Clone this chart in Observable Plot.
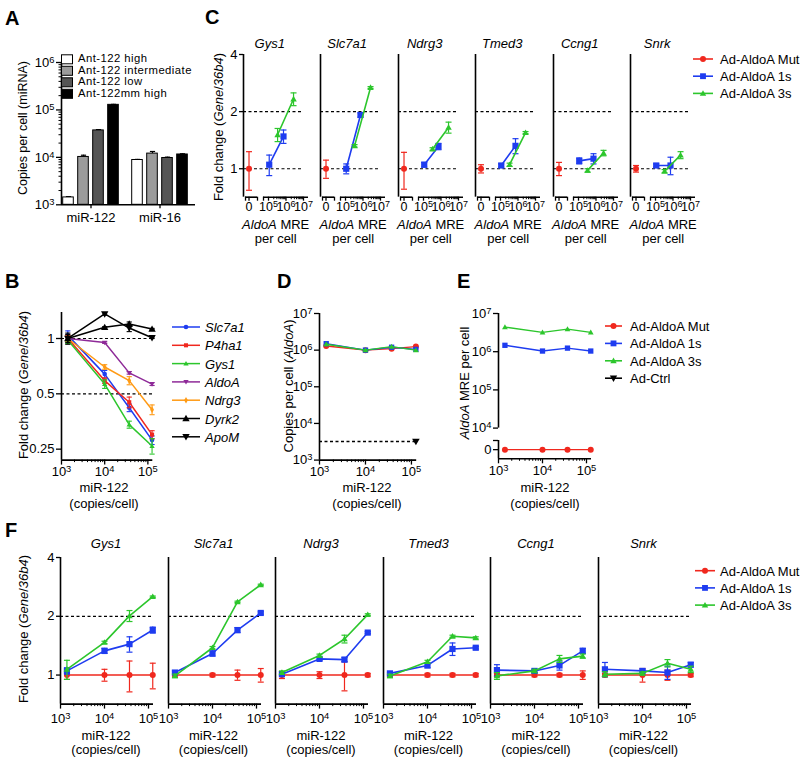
<!DOCTYPE html>
<html><head><meta charset="utf-8">
<script src="https://cdn.jsdelivr.net/npm/d3@7"></script>
<script src="https://cdn.jsdelivr.net/npm/@observablehq/plot@0.6"></script>
<style>
body{margin:0;background:#fff;}
#fig{position:relative;width:800px;height:760px;overflow:hidden;font-family:"Liberation Sans",Arial,Helvetica,sans-serif;color:#000;background:#fff;}
.abs{position:absolute;white-space:nowrap;line-height:1;}
</style></head><body><div id="fig"></div>
<script>
// ---------------- DATA ----------------
// Panel A
const aGroups = ["miR-122", "miR-16"];
const aConditions = ["Ant-122 high", "Ant-122 intermediate", "Ant-122 low", "Ant-122mm high"];
const aValues = [[1430, 10200, 37000, 128000], [8800, 12000, 9700, 11500]];
const aErrors = [[60, 900, 1500, 3000], [250, 1300, 400, 400]];
// shared miR-122 copies per cell (x)
const mir122 = [1400, 10000, 37000, 125000];
// Panel B
const bGenes = ["Slc7a1", "P4ha1", "Gys1", "AldoA", "Ndrg3", "Dyrk2", "ApoM"];
const bValues = [
  [1.04, 0.64, 0.42, 0.28],
  [1.0, 0.59, 0.45, 0.30],
  [0.98, 0.565, 0.34, 0.26],
  [1.0, 0.95, 0.65, 0.565],
  [1.0, 0.70, 0.59, 0.41],
  [1.0, 1.15, 1.2, 1.125],
  [1.0, 1.36, 1.14, 1.01]
];
const bErrors = [
  [0.06, 0.03, 0.02, 0.015],
  [0.04, 0.02, 0.03, 0.015],
  [0.04, 0.03, 0.015, 0.025],
  [0.02, 0.01, 0.01, 0.01],
  [0.03, 0.02, 0.03, 0.025],
  [0.07, 0.01, 0.03, 0.01],
  [0.05, 0.02, 0.05, 0.01]
];
const bRef = [1, 0.5];
// Panel C
const cGenes = ["Gys1", "Slc7a1", "Ndrg3", "Tmed3", "Ccng1", "Snrk"];
const cMutMRE = [0];
const c1sMRE = [110000, 720000];
const c3sMRE = [330000, 2700000];
const cMut = [1.0, 1.0, 1.0, 1.0, 1.0, 1.0];
const cMutErr = [0.23, 0.11, 0.22, 0.05, 0.08, 0.04];
const c1s = [[1.05, 1.48], [1.0, 1.92], [1.05, 1.31], [1.04, 1.32], [1.1, 1.13], [1.04, 1.04]];
const c1sErr = [[0.13, 0.12], [0.06, 0.05], [0.03, 0.05], [0.02, 0.12], [0.04, 0.07], [0.02, 0.11]];
const c3s = [[1.51, 2.33], [1.32, 2.68], [1.27, 1.65], [1.05, 1.55], [0.98, 1.21], [0.97, 1.18]];
const c3sErr = [[0.12, 0.18], [0.02, 0.03], [0.02, 0.11], [0.02, 0.02], [0.02, 0.04], [0.02, 0.05]];
const cRef = [1, 2];
// Panel D
const dMut = [1.3e6, 1.0e6, 1.1e6, 1.25e6];
const d1s = [1.5e6, 1.0e6, 1.2e6, 1.05e6];
const d3s = [1.45e6, 1.0e6, 1.25e6, 1.0e6];
const dCtrl = 3200;
// Panel E
const eMut = [0, 0, 0, 0];
const e1s = [1.47e6, 1.04e6, 1.24e6, 1.04e6];
const e3s = [4.4e6, 3.2e6, 3.9e6, 3.2e6];
// Panel F
const fGenes = ["Gys1", "Slc7a1", "Ndrg3", "Tmed3", "Ccng1", "Snrk"];
const fMut = [[1,1,1,1],[1,1,1,1],[1,1,1,1],[1,1,1,1],[1,1,1,1],[1,1,1,1]];
const fMutErr = [
  [0.05, 0.07, 0.18, 0.15], [0.02, 0.02, 0.06, 0.08], [0.04, 0.04, 0.17, 0.02],
  [0.02, 0.02, 0.02, 0.02], [0.02, 0.02, 0.02, 0.05], [0.02, 0.08, 0.06, 0.02]
];
const f1s = [
  [1.05, 1.33, 1.44, 1.70], [1.03, 1.29, 1.70, 2.08], [1.01, 1.21, 1.20, 1.65],
  [1.02, 1.12, 1.36, 1.38], [1.06, 1.05, 1.12, 1.33], [1.07, 1.05, 1.03, 1.13]
];
const f1sErr = [
  [0.04, 0.04, 0.13, 0.06], [0.02, 0.04, 0.05, 0.03], [0.01, 0.02, 0.03, 0.02],
  [0.01, 0.03, 0.10, 0.02], [0.07, 0.02, 0.06, 0.04], [0.09, 0.02, 0.08, 0.03]
];
const f3s = [
  [1.07, 1.47, 2.01, 2.52], [0.99, 1.38, 2.37, 2.90], [1.03, 1.26, 1.53, 2.04],
  [0.99, 1.17, 1.58, 1.55], [0.99, 1.05, 1.21, 1.25], [1.01, 1.02, 1.15, 1.07]
];
const f3sErr = [
  [0.12, 0.02, 0.13, 0.02], [0.02, 0.02, 0.02, 0.02], [0.02, 0.02, 0.07, 0.02],
  [0.02, 0.02, 0.02, 0.02], [0.04, 0.02, 0.05, 0.03], [0.03, 0.02, 0.05, 0.04]
];
const fRef = [2];
const seriesNames = ["Ad-AldoA Mut", "Ad-AldoA 1s", "Ad-AldoA 3s", "Ad-Ctrl"];

// ---------------- STYLE / HELPERS ----------------
const FONT = '"Liberation Sans", Arial, Helvetica, sans-serif';
const RED = "#f0281e", BLUE = "#1e3cf0", GREEN = "#2cc62c", PURPLE = "#8e2a98", ORANGE = "#ff9a14", BLACK = "#000";
const SUP = "⁰¹²³⁴⁵⁶⁷⁸⁹";
const pow10 = d => "10" + String(Math.round(Math.log10(d))).split("").map(c => SUP[+c]).join("");
const minorLog = (lo, hi) => { const t = []; for (let e = lo; e < hi; e++) for (let k = 2; k < 10; k++) t.push(k * 10 ** e); return t; };
const cap = {draw(ctx, size) { const w = Math.sqrt(size / Math.PI); ctx.moveTo(-w, 0); ctx.lineTo(w, 0); }};
const triUp = {draw(ctx, size) { const r = Math.sqrt(size / Math.PI); ctx.moveTo(0, -r * 1.15); ctx.lineTo(r * 1.15, r * 0.85); ctx.lineTo(-r * 1.15, r * 0.85); ctx.closePath(); }};
const triDown = {draw(ctx, size) { const r = Math.sqrt(size / Math.PI); ctx.moveTo(0, r * 1.15); ctx.lineTo(r * 1.15, -r * 0.85); ctx.lineTo(-r * 1.15, -r * 0.85); ctx.closePath(); }};
const fig = document.getElementById("fig");

function series(xs, ys, es, o) {
  const rows = xs.map((x, i) => ({x, y: ys[i], e: es ? es[i] : 0}));
  const er = rows.filter(d => d.e > 0);
  const ew = o.ew ?? 1.2, capR = o.capR ?? 3;
  return [
    Plot.ruleX(er, {x: "x", y1: d => d.y - d.e, y2: d => d.y + d.e, stroke: o.color, strokeWidth: ew}),
    Plot.dot(er, {x: "x", y: d => d.y + d.e, symbol: cap, r: capR, stroke: o.color, strokeWidth: ew, fill: "none"}),
    Plot.dot(er, {x: "x", y: d => d.y - d.e, symbol: cap, r: capR, stroke: o.color, strokeWidth: ew, fill: "none"}),
    rows.length > 1 ? Plot.line(rows, {x: "x", y: "y", stroke: o.color, strokeWidth: o.sw ?? 1.6}) : null,
    Plot.dot(rows, {x: "x", y: "y", symbol: o.symbol, r: o.r ?? 3, fill: o.color, stroke: "none"})
  ].filter(Boolean);
}

// render "10⁵"-style tick labels with a real, larger superscript
function fixSuperscripts(svg) {
  svg.querySelectorAll("text").forEach(t => {
    const m = /^10([⁰¹²³⁴⁵⁶⁷⁸⁹]+)$/.exec(t.textContent);
    if (!m) return;
    const exp = m[1].split("").map(c => SUP.indexOf(c)).join("");
    t.textContent = "10";
    const ts = document.createElementNS("http://www.w3.org/2000/svg", "tspan");
    ts.setAttribute("dy", "-0.42em");
    ts.setAttribute("font-size", "0.72em");
    ts.textContent = exp;
    t.appendChild(ts);
  });
}

function mount(marks, f) {
  const mL = f.mL ?? 45, mR = f.mR ?? 14, mT = f.mT ?? 10, mB = f.mB ?? 30;
  const opts = {
    width: f.x1 - f.x0 + mL + mR, height: f.y1 - f.y0 + mT + mB,
    marginLeft: mL, marginRight: mR, marginTop: mT, marginBottom: mB,
    x: f.x, y: f.y, marks: marks.flat(Infinity).filter(Boolean),
    style: {background: "transparent", fontFamily: FONT, fontSize: "13px", color: "#000", overflow: "visible"}
  };
  if (f.color) opts.color = f.color;
  const p = Plot.plot(opts);
  fixSuperscripts(p);
  p.style.position = "absolute";
  p.style.left = (f.x0 - mL) + "px";
  p.style.top = (f.y0 - mT) + "px";
  fig.appendChild(p);
}

function label(html, x, y, o = {}) {
  const d = document.createElement("div");
  d.className = "abs";
  d.innerHTML = html;
  d.style.left = x + "px"; d.style.top = y + "px";
  d.style.fontSize = (o.size ?? 13) + "px";
  if (o.bold) d.style.fontWeight = "bold";
  if (o.italic) d.style.fontStyle = "italic";
  if (o.ls) d.style.letterSpacing = o.ls + "px";
  d.style.transform = o.rot ? "translate(-50%,-50%) rotate(-90deg)" : (o.left ? "translate(0,-50%)" : "translate(-50%,-50%)");
  fig.appendChild(d);
}

const logXAxis = (lo, hi, pad = 2) => [
  Plot.axisX({ticks: d3.range(lo, hi + 1).map(e => 10 ** e), tickFormat: pow10, tickSize: 5, tickPadding: pad, fontSize: 13, strokeWidth: 1.3, label: null}),
  Plot.axisX({ticks: minorLog(lo, hi), tickSize: 2.5, tickFormat: () => "", strokeWidth: 1, label: null})
];
const fold = d => String(d);
const dash = {strokeDasharray: "3,2.5", strokeWidth: 1.2};
const AX = 1.6;

// ---------------- PANEL A ----------------
const aGap = 4.6, aW = 0.707;
const aRows = [];
aGroups.forEach((g, gi) => aConditions.forEach((c, ci) => {
  const x1 = gi * aGap + ci;
  aRows.push({gi, ci, x1, x2: x1 + aW, xm: x1 + aW / 2, v: aValues[gi][ci], e: aErrors[gi][ci]});
}));
const aFill = ["#ffffff", "#9b9b9b", "#555555", "#000000"];
const aCenters = aGroups.map((g, gi) => gi * aGap + 1.5 + aW / 2);
mount([
  Plot.ruleX(aRows, {x: "xm", y1: "v", y2: d => d.v + d.e, strokeWidth: 1.2}),
  Plot.dot(aRows, {x: "xm", y: d => d.v + d.e, symbol: cap, r: 2.6, stroke: BLACK, strokeWidth: 1.2, fill: "none"}),
  Plot.rect(aRows, {x1: "x1", x2: "x2", y1: () => 1e3, y2: "v", fill: d => aFill[d.ci], stroke: BLACK, strokeWidth: 1}),
  Plot.ruleX([-0.113], {strokeWidth: AX}),
  Plot.ruleY([1e3], {strokeWidth: AX}),
  Plot.axisY({ticks: [1e3, 1e4, 1e5, 1e6], tickFormat: pow10, tickSize: 5, tickPadding: 2, fontSize: 13, strokeWidth: 1.3, label: null}),
  Plot.axisY({ticks: minorLog(3, 6), tickSize: 2.5, tickFormat: () => "", label: null}),
  Plot.axisX({ticks: aCenters, tickFormat: d => aGroups[aCenters.indexOf(d)], tickSize: 4, tickPadding: 4, fontSize: 13, strokeWidth: 1.3, label: null})
], {x0: 61, x1: 195, y0: 61.7, y1: 204, x: {domain: [-0.113, 8.82]}, y: {type: "log", domain: [1e3, 1e6]}, color: {type: "identity"}});
label("Copies per cell (miRNA)", 23, 128, {rot: true, size: 12.5});

// ---------------- PANEL B ----------------
const bColors = [BLUE, RED, GREEN, PURPLE, ORANGE, BLACK, BLACK];
const bSymbols = ["circle", "square", triUp, triDown, "diamond", triUp, triDown];
const bR = [2.3, 2.3, 2.3, 2.3, 2.0, 3.2, 3.2];
mount([
  Plot.ruleY(bRef, dash),
  bGenes.map((g, i) => series(mir122, bValues[i], bErrors[i], {color: bColors[i], symbol: bSymbols[i], r: bR[i], sw: 1.5, capR: 2.6, ew: 1.1})),
  Plot.ruleX([1e3], {strokeWidth: AX}),
  Plot.ruleY([0.218], {strokeWidth: AX}),
  Plot.axisY({ticks: [0.25, 0.5, 1], tickFormat: fold, tickSize: 5, tickPadding: 2, fontSize: 13, strokeWidth: 1.3, label: null}),
  logXAxis(3, 5)
], {x0: 60.7, x1: 152, y0: 311.7, y1: 459.3, x: {type: "log", domain: [1e3, 1.3e5]}, y: {type: "log", base: 2, domain: [0.218, 1.385]}});
label("Fold change (<i>Gene</i>/<i>36b4</i>)", 23, 385, {rot: true});
label("miR-122", 104, 487);
label("(copies/cell)", 104, 503);

// ---------------- PANEL C ----------------
const cDomain = [3.571, 7.286], cZero = 3.886, cZeroSeg = [3.686, 4.371], cLogSeg = [4.714, 7.286];
const cX = v => v === 0 ? cZero : Math.log10(v);
cGenes.forEach((g, i) => {
  const a = 242.7 + i * 77.5;
  mount([
    Plot.ruleY(cRef, {...dash, x1: cDomain[0], x2: 7}),
    Plot.ruleX([cDomain[0]], {strokeWidth: AX}),
    Plot.ruleY([0.708], {x1: cZeroSeg[0], x2: cZeroSeg[1], strokeWidth: AX}),
    Plot.ruleY([0.708], {x1: cLogSeg[0], x2: cLogSeg[1], strokeWidth: AX}),
    series(cMutMRE.map(cX), [cMut[i]], [cMutErr[i]], {color: RED, symbol: "circle", r: 3}),
    series(c1sMRE.map(cX), c1s[i], c1sErr[i], {color: BLUE, symbol: "square", r: 3.5}),
    series(c3sMRE.map(cX), c3s[i], c3sErr[i], {color: GREEN, symbol: triUp, r: 2.8}),
    Plot.axisX({ticks: [cZero, 5, 6, 7], tickFormat: d => d === cZero ? "0" : pow10(10 ** d), tickSize: 4, tickPadding: 1, fontSize: 12.5, strokeWidth: 1.3, label: null}),
    Plot.axisX({ticks: [...cZeroSeg, cLogSeg[0]], tickSize: 4, tickFormat: () => "", strokeWidth: 1.3, label: null}),
    Plot.axisX({ticks: minorLog(5, 7).map(Math.log10), tickSize: 2.5, tickFormat: () => "", label: null}),
    i === 0 ? Plot.axisY({ticks: [1, 2, 4], tickFormat: fold, tickSize: 4, tickPadding: 2, fontSize: 13, strokeWidth: 1.3, label: null}) : null
  ], {x0: a, x1: a + 65, y0: 54.3, y1: 197, x: {domain: cDomain}, y: {type: "log", base: 2, domain: [0.708, 4], axis: i === 0 ? undefined : null}});
  label(g, a + 27, 43, {italic: true});
  label("<i>AldoA</i> MRE", a + 33, 224);
  label("per cell", a + 33, 238);
});
label("Fold change (<i>Gene</i>/<i>36b4</i>)", 218, 127, {rot: true});

// ---------------- PANEL D ----------------
mount([
  Plot.ruleY([dCtrl], {x1: 1e3, x2: mir122[3], ...dash, strokeWidth: 1.4}),
  Plot.dot([dCtrl], {x: mir122[3], y: d => d, symbol: triDown, r: 3.3, fill: BLACK}),
  series(mir122, dMut, null, {color: RED, symbol: "circle", r: 3, sw: 1.4}),
  series(mir122, d1s, null, {color: BLUE, symbol: "square", r: 3, sw: 1.4}),
  series(mir122, d3s, null, {color: GREEN, symbol: triUp, r: 2.5, sw: 1.4}),
  Plot.ruleX([1e3], {strokeWidth: AX}),
  Plot.ruleY([1e3], {strokeWidth: AX}),
  Plot.axisY({ticks: [1e3, 1e4, 1e5, 1e6, 1e7], tickFormat: pow10, tickSize: 5, tickPadding: 2, fontSize: 13, strokeWidth: 1.3, label: null}),
  logXAxis(3, 5)
], {x0: 319.3, x1: 416.5, y0: 312.7, y1: 459.3, x: {type: "log", domain: [1e3, 1.3e5]}, y: {type: "log", domain: [1e3, 1e7]}});
label("Copies per cell (<i>AldoA</i>)", 288, 386, {rot: true});
label("miR-122", 367, 487);
label("(copies/cell)", 367, 503);

// ---------------- PANEL E ----------------
mount([
  series(mir122, e1s, null, {color: BLUE, symbol: "square", r: 3, sw: 1.4}),
  series(mir122, e3s, null, {color: GREEN, symbol: triUp, r: 2.5, sw: 1.4}),
  Plot.ruleX([1e3], {strokeWidth: AX}),
  Plot.axisY({ticks: [1e4, 1e5, 1e6, 1e7], tickFormat: pow10, tickSize: 5, tickPadding: 2, fontSize: 13, strokeWidth: 1.3, label: null})
], {x0: 497.7, x1: 590.7, y0: 312.7, y1: 427.3, mB: 6, x: {type: "log", domain: [1e3, 1.3e5], axis: null}, y: {type: "log", domain: [1e4, 1e7]}});
mount([
  series(mir122, eMut, null, {color: RED, symbol: "circle", r: 3, sw: 1.4}),
  Plot.ruleX([1e3], {strokeWidth: AX}),
  Plot.ruleY([-1], {strokeWidth: AX}),
  Plot.axisY({ticks: [0], tickFormat: fold, tickSize: 5, tickPadding: 2, fontSize: 13, strokeWidth: 1.3, label: null}),
  Plot.axisY({ticks: [1], tickSize: 5, tickFormat: () => "", strokeWidth: 1.3, label: null}),
  logXAxis(3, 5)
], {x0: 497.7, x1: 590.7, y0: 440, y1: 458.3, mT: 4, x: {type: "log", domain: [1e3, 1.3e5]}, y: {domain: [-1, 1]}});
label("<i>AldoA</i> MRE per cell", 464, 383, {rot: true});
label("miR-122", 545, 487);
label("(copies/cell)", 545, 503);

// ---------------- PANEL F ----------------
fGenes.forEach((g, i) => {
  const a = 60 + i * 107.5;
  mount([
    Plot.ruleY(fRef, dash),
    series(mir122, fMut[i], fMutErr[i], {color: RED, symbol: "circle", r: 3}),
    series(mir122, f1s[i], f1sErr[i], {color: BLUE, symbol: "square", r: 3.5}),
    series(mir122, f3s[i], f3sErr[i], {color: GREEN, symbol: triUp, r: 2.8}),
    Plot.ruleX([1e3], {strokeWidth: AX}),
    Plot.ruleY([0.71], {strokeWidth: AX}),
    logXAxis(3, 5, 5),
    i === 0 ? Plot.axisY({ticks: [1, 2, 4], tickFormat: fold, tickSize: 4, tickPadding: 2, fontSize: 13, strokeWidth: 1.3, label: null}) : null
  ], {x0: a, x1: a + 93, y0: 556.7, y1: 703.3, x: {type: "log", domain: [1e3, 1.3e5]}, y: {type: "log", base: 2, domain: [0.71, 4], axis: i === 0 ? undefined : null}});
  label(g, a + 46, 543, {italic: true});
  label("miR-122", a + 46, 735);
  label("(copies/cell)", a + 46, 749);
});
label("Fold change (<i>Gene</i>/<i>36b4</i>)", 23, 629, {rot: true});

// ---------------- PANEL LETTERS ----------------
[["A", 5, 17.5], ["C", 205, 16.7], ["B", 5, 280.5], ["D", 277, 280.5], ["E", 457, 280.5], ["F", 5, 530]]
  .forEach(([t, x, y]) => label(t, x, y, {left: true, bold: true, size: 20}));

// ---------------- LEGENDS ----------------
const ov = d3.select(fig).append("svg").attr("width", 800).attr("height", 760)
  .style("position", "absolute").style("left", "0px").style("top", "0px").style("pointer-events", "none");
const symType = s => s === "circle" ? d3.symbolCircle : s === "square" ? d3.symbolSquare : s === "diamond" ? d3.symbolDiamond : s;
function legendRow(x1, x2, y, color, shape, r, text, tx, o = {}) {
  ov.append("line").attr("x1", x1).attr("x2", x2).attr("y1", y).attr("y2", y).attr("stroke", color).attr("stroke-width", o.sw ?? 1.6);
  ov.append("path").attr("d", d3.symbol(symType(shape), Math.PI * r * r)()).attr("transform", `translate(${(x1 + x2) / 2},${y})`).attr("fill", color);
  label(text, tx, y, {left: true, italic: o.italic, size: o.size ?? 13});
}
// A legend (swatches)
aConditions.forEach((c, i) => {
  const y = 59.3 + i * 11.5;
  ov.append("rect").attr("x", 61.5).attr("y", y - 4.5).attr("width", 11).attr("height", 9).attr("fill", aFill[i]).attr("stroke", "#000").attr("stroke-width", 1);
  label(c, 78, y, {left: true, size: 11.3, ls: 0.45});
});
// B legend
bGenes.forEach((g, i) => legendRow(172, 200, 327 + i * 18.3, bColors[i], bSymbols[i], bR[i], g, 205, {italic: true, sw: 1.5}));
// C legend
const legCols = [RED, BLUE, GREEN, BLACK], legSyms = ["circle", "square", triUp, triDown], legR = [3, 3.3, 2.8, 3.2];
[0, 1, 2].forEach(i => legendRow(693, 713, 59 + i * 17.2, legCols[i], legSyms[i], legR[i], seriesNames[i], 720));
// E legend
[0, 1, 2, 3].forEach(i => legendRow(605, 622, 326 + i * 17.4, legCols[i], legSyms[i], legR[i], seriesNames[i], 630));
// F legend
[0, 1, 2].forEach(i => legendRow(695, 715, 570.7 + i * 17.2, legCols[i], legSyms[i], legR[i], seriesNames[i], 720));
</script></body></html>
